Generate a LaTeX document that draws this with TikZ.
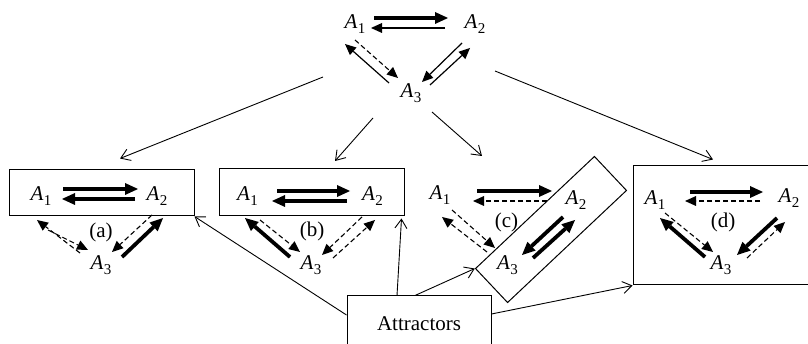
\documentclass[tikz,border=0pt]{standalone}
\usepackage{fontspec}
\setmainfont{Liberation Serif}
\usetikzlibrary{arrows.meta,calc}
\newcommand\Asub[1]{\textit{A}\kern0.3pt\raisebox{-5.5pt}{\fontsize{15}{15}\selectfont #1}}
\begin{document}
\begin{tikzpicture}[x=1pt,y=-1pt,
 lab/.style={inner sep=0pt, font=\fontsize{21}{21}\selectfont},
 box/.style={draw, line width=1pt, rectangle, inner sep=0pt},
 thk/.style={line width=3.8pt, -{Triangle[length=13pt,width=12pt,line width=0pt]}},
 thn/.style={line width=1.2pt, -{Triangle[length=11pt,width=10pt,line width=0pt]}},
 dsh/.style={line width=1.1pt, dash pattern=on 5pt off 3pt, -{Triangle[length=11pt,width=10pt,line width=0pt]}},
 con/.style={line width=0.9pt, -{Straight Barb[length=9pt,width=12pt]}}]
\useasboundingbox (0,0) rectangle (808,344);

% boxes
\node[box, minimum width=185pt, minimum height=46pt] (boxa) at (101.5,193) {};
\node[box, minimum width=185pt, minimum height=47pt] (boxb) at (311.5,192.5) {};
\node[box, minimum width=163.4pt, minimum height=46.7pt, rotate=43.3] (bc) at (551,229.5) {};
\node[box, minimum width=179pt, minimum height=119pt] (boxd) at (722.5,225.5) {};
\node[box, minimum width=144pt, minimum height=56pt, font=\fontsize{21}{21}\selectfont] (att) at (419,324) {Attractors};

% top triangle
\node[lab] (t1) at (355,24) {\Asub{1}};
\node[lab] (t2) at (475,24) {\Asub{2}};
\node[lab] (t3) at (411,93) {\Asub{3}};
\draw[thk] ([shift={(19,-6)}]t1.center) -- ([shift={(-27,-6)}]t2.center);
\draw[thn] ([shift={(-30,4)}]t2.center) -- ([shift={(16,4)}]t1.center);
\draw[thn] ([shift={(-22,-10)}]t3.center) -- ([shift={(-10,20)}]t1.center);
\draw[dsh] ([shift={(0,16)}]t1.center) -- ([shift={(-13,-15)}]t3.center);
\draw[thn] ([shift={(-13,19)}]t2.center) -- ([shift={(11,-11)}]t3.center);
\draw[thn] ([shift={(19,-8)}]t3.center) -- ([shift={(-5,24)}]t2.center);

% (a)
\node[lab] (a1) at (41,196) {\Asub{1}};
\node[lab] (a2) at (157,196) {\Asub{2}};
\node[lab] (a3) at (101,265) {\Asub{3}};
\node[lab] (la) at (101,232) {(a)};
\draw[thk] ([shift={(22,-7)}]a1.center) -- ([shift={(-19,-7)}]a2.center);
\draw[thk] ([shift={(-22,3)}]a2.center) -- ([shift={(21,3)}]a1.center);
\draw[dsh] ([shift={(-21,-12)}]a3.center) -- ([shift={(-4,24)}]a1.center);
\draw[dsh] ([shift={(7,34)}]a1.center) -- ([shift={(-13,-15)}]a3.center);
\draw[dsh] ([shift={(-5,19)}]a2.center) -- ([shift={(11,-13)}]a3.center);
\draw[thk] ([shift={(21,-8)}]a3.center) -- ([shift={(6,22)}]a2.center);

% (b)
\node[lab] (b1) at (247.5,196) {\Asub{1}};
\node[lab] (b2) at (372.5,196) {\Asub{2}};
\node[lab] (b3) at (311,265) {\Asub{3}};
\node[lab] (lb) at (312,231) {(b)};
\draw[thk] ([shift={(29.5,-5)}]b1.center) -- ([shift={(-22.5,-5)}]b2.center);
\draw[thk] ([shift={(-25.5,5)}]b2.center) -- ([shift={(24.5,5)}]b1.center);
\draw[thk] ([shift={(-21,-8)}]b3.center) -- ([shift={(-2.5,22)}]b1.center);
\draw[dsh] ([shift={(12.5,24)}]b1.center) -- ([shift={(-11,-13)}]b3.center);
\draw[dsh] ([shift={(-10.5,21)}]b2.center) -- ([shift={(11,-10)}]b3.center);
\draw[dsh] ([shift={(22,-7)}]b3.center) -- ([shift={(2.5,24)}]b2.center);

% (c)
\node[lab] (c1) at (440,195) {\Asub{1}};
\node[lab] (c2) at (576,200) {\Asub{2}};
\node[lab] (c3) at (507.5,265) {\Asub{3}};
\node[lab] (lc) at (506.5,222) {(c)};
\draw[thk] ([shift={(37,-4)}]c1.center) -- ([shift={(-24,-9)}]c2.center);
\draw[dsh] ([shift={(-29,1)}]c2.center) -- ([shift={(33,6)}]c1.center);
\draw[dsh] ([shift={(-20.5,-13)}]c3.center) -- ([shift={(2,22)}]c1.center);
\draw[dsh] ([shift={(12,15)}]c1.center) -- ([shift={(-12.5,-17)}]c3.center);
\draw[thk] ([shift={(-13,17)}]c2.center) -- ([shift={(14.5,-10)}]c3.center);
\draw[thk] ([shift={(25.5,-7)}]c3.center) -- ([shift={(-1,20)}]c2.center);

% (d)
\node[lab] (d1) at (655,200) {\Asub{1}};
\node[lab] (d2) at (789,198) {\Asub{2}};
\node[lab] (d3) at (721,265) {\Asub{3}};
\node[lab] (ld) at (723,222) {(d)};
\draw[thk] ([shift={(35,-8)}]d1.center) -- ([shift={(-26,-6)}]d2.center);
\draw[dsh] ([shift={(-29,3)}]d2.center) -- ([shift={(30,1)}]d1.center);
\draw[thk] ([shift={(-16,-8)}]d3.center) -- ([shift={(5,18)}]d1.center);
\draw[dsh] ([shift={(10,13)}]d1.center) -- ([shift={(-8,-13)}]d3.center);
\draw[thk] ([shift={(-12,20)}]d2.center) -- ([shift={(16,-10)}]d3.center);
\draw[dsh] ([shift={(26,-7)}]d3.center) -- ([shift={(-4,24)}]d2.center);

% connectors from the top diagram
\coordinate (s1) at (323,77);
\coordinate (s2) at (373,118);
\coordinate (s3) at (432,112);
\coordinate (s4) at (495,71);
\coordinate (e3) at (482,156);
\draw[con] (s1) -- ([shift={(18.5,-11)}]boxa.north);
\draw[con] (s2) -- ([shift={(23.5,-7.5)}]boxb.north);
\draw[con] (s3) -- (e3);
\draw[con] (s4) -- ([shift={(-9.5,-6)}]boxd.north);

% connectors from Attractors
\draw[con] ([shift={(0,-9)}]att.west) -- (boxa.south east);
\draw[con] ([shift={(-22,0)}]att.north) -- ([shift={(-3,2)}]boxb.south east);
\draw[con] ([shift={(-4,0)}]att.north) -- (bc.north west);
\draw[con] ([shift={(0,-10)}]att.east) -- (boxd.south west);
\end{tikzpicture}
\end{document}
